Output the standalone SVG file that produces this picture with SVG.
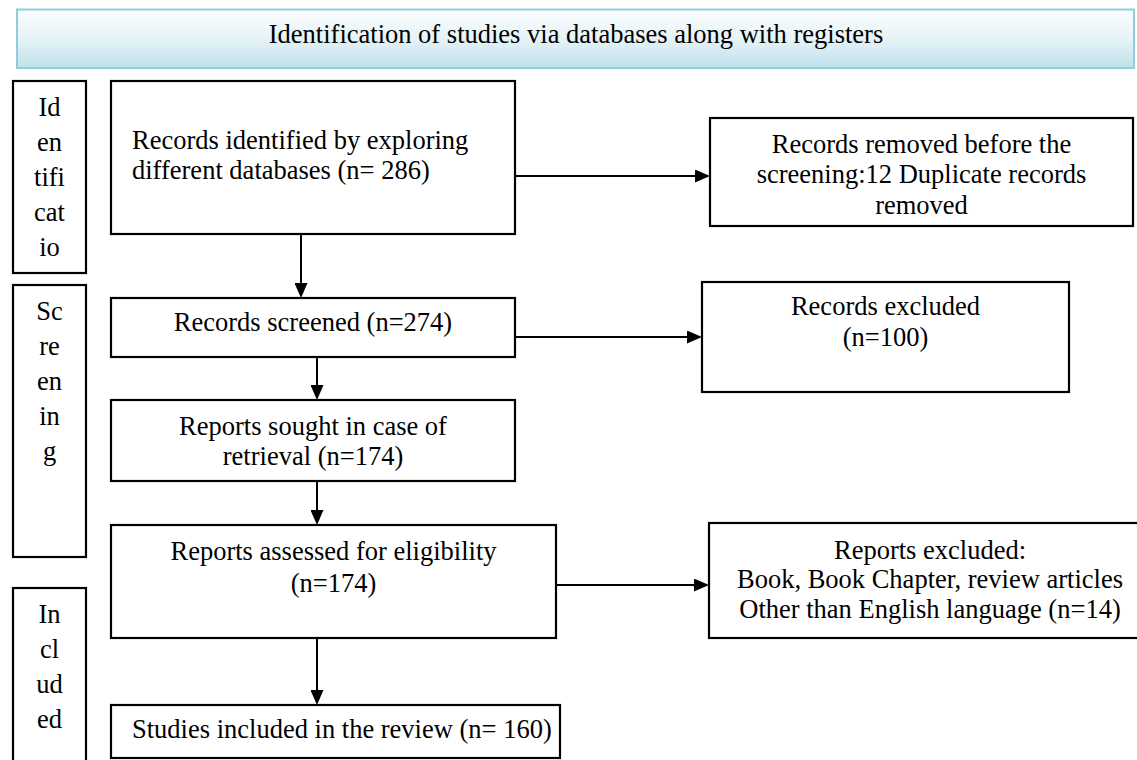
<svg xmlns="http://www.w3.org/2000/svg" width="1137" height="760" viewBox="0 0 1137 760">
  <defs>
    <linearGradient id="hdr" x1="0" y1="0" x2="0" y2="1">
      <stop offset="0" stop-color="#fbfdfe"/>
      <stop offset="0.5" stop-color="#e6f3f7"/>
      <stop offset="1" stop-color="#bfe0ea"/>
    </linearGradient>
    <marker id="ah" markerWidth="15" markerHeight="13" refX="10" refY="6.5" orient="auto" markerUnits="userSpaceOnUse">
      <path d="M0,0 L15,6.5 L0,13 z" fill="#000"/>
    </marker>
  </defs>
  <style>
    .box { fill: #fff; stroke: #000; stroke-width: 2.2; }
    .t { font-family: "Liberation Serif", "Times New Roman", serif; font-size: 26.5px; fill: #000; }
    .c { text-anchor: middle; }
    .conn { fill: none; stroke: #000; stroke-width: 2; marker-end: url(#ah); }
  </style>
  <rect width="1137" height="760" fill="#fff"/>

  <g id="header">
    <rect x="17" y="9.5" width="1117" height="58.5" fill="url(#hdr)" stroke="#93cbdc" stroke-width="2"/>
    <text class="t c" x="576" y="43">Identification of studies via databases along with registers</text>
  </g>

  <g id="phase-identification">
    <rect class="box" x="13" y="81" width="73" height="192"/>
    <text class="t c" x="49.5" y="116">Id</text>
    <text class="t c" x="49.5" y="151">en</text>
    <text class="t c" x="49.5" y="186">tifi</text>
    <text class="t c" x="49.5" y="221">cat</text>
    <text class="t c" x="49.5" y="256">io</text>
  </g>

  <g id="phase-screening">
    <rect class="box" x="13" y="285" width="73" height="272"/>
    <text class="t c" x="49.5" y="320">Sc</text>
    <text class="t c" x="49.5" y="355">re</text>
    <text class="t c" x="49.5" y="390">en</text>
    <text class="t c" x="49.5" y="425">in</text>
    <text class="t c" x="49.5" y="460">g</text>
  </g>

  <g id="phase-included">
    <rect class="box" x="13" y="588" width="73" height="180"/>
    <text class="t c" x="49.5" y="623">In</text>
    <text class="t c" x="49.5" y="658">cl</text>
    <text class="t c" x="49.5" y="693">ud</text>
    <text class="t c" x="49.5" y="728">ed</text>
  </g>

  <g id="records-identified">
    <rect class="box" x="111" y="81" width="404" height="153"/>
    <text class="t" x="132" y="149">Records identified by exploring</text>
    <text class="t" x="132" y="179">different databases (n= 286)</text>
  </g>

  <g id="records-removed">
    <rect class="box" x="710" y="118" width="423" height="108"/>
    <text class="t c" x="921.5" y="153">Records removed before the</text>
    <text class="t c" x="921.5" y="183">screening:12 Duplicate records</text>
    <text class="t c" x="921.5" y="214">removed</text>
  </g>

  <g id="records-screened">
    <rect class="box" x="111" y="298" width="404" height="59"/>
    <text class="t c" x="313" y="331">Records screened (n=274)</text>
  </g>

  <g id="records-excluded">
    <rect class="box" x="702" y="282" width="367" height="110"/>
    <text class="t c" x="885.5" y="315">Records excluded</text>
    <text class="t c" x="885.5" y="346">(n=100)</text>
  </g>

  <g id="reports-sought">
    <rect class="box" x="111" y="400" width="404" height="81"/>
    <text class="t c" x="313" y="435">Reports sought in case of</text>
    <text class="t c" x="313" y="465">retrieval (n=174)</text>
  </g>

  <g id="reports-assessed">
    <rect class="box" x="111" y="525" width="445" height="113"/>
    <text class="t c" x="333.5" y="560">Reports assessed for eligibility</text>
    <text class="t c" x="333.5" y="592">(n=174)</text>
  </g>

  <g id="reports-excluded">
    <rect class="box" x="709" y="523" width="442" height="115"/>
    <text class="t c" x="930" y="559">Reports excluded:</text>
    <text class="t c" x="930" y="588">Book, Book Chapter, review articles</text>
    <text class="t c" x="930" y="618">Other than English language (n=14)</text>
  </g>

  <g id="studies-included">
    <rect class="box" x="111" y="705" width="449" height="53"/>
    <text class="t" x="132" y="738">Studies included in the review (n= 160)</text>
  </g>

  <g id="connectors">
    <path class="conn" d="M515,176 H705"/>
    <path class="conn" d="M515,337 H697"/>
    <path class="conn" d="M556,585 H704"/>
    <path class="conn" d="M301,234 V293"/>
    <path class="conn" d="M317,357 V395"/>
    <path class="conn" d="M317,481 V520"/>
    <path class="conn" d="M317,638 V700"/>
  </g>
</svg>
